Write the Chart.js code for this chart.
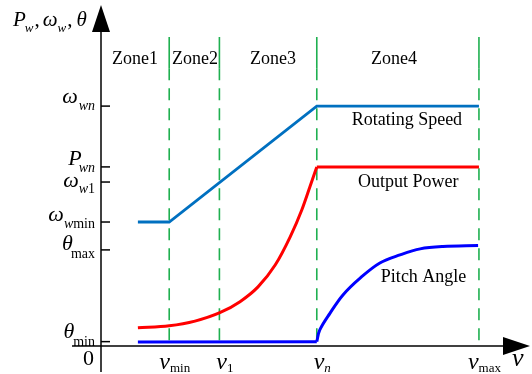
<!DOCTYPE html>
<html>
<head>
<meta charset="utf-8">
<script src="https://cdn.jsdelivr.net/npm/chart.js@4.4.0/dist/chart.umd.min.js"></script>
<style>
  html, body { margin: 0; padding: 0; background: #fff; }
  #wrap { width: 532px; height: 374px; position: relative; }
</style>
</head>
<body>
<div id="wrap"><canvas id="c"></canvas></div>
<script>
// wind speed marks on the v axis (arbitrary units, 0..100)
const vStart = 8.6, vMin = 15.9, v1 = 27.6, vN = 50.3, vMax = 88.1;
const zoneEdges = [vMin, v1, vN, vMax];
const zoneTop = 92, zoneSolidEnd = 82.7;

// levels on the vertical axis (0..100)
const wWn = 71.4, pWn = 53.3, wW1 = 48.8, wWmin = 36.9, thMax = 28.6, thMin = 1.3;

// rotating speed
const speedX = [vStart, vMin, vN, vMax];
const speedY = [wWmin, wWmin, wWn, wWn];

// output power
const powerX = [8.6, 15.9, 21.9, 27.7, 32.4, 36.6, 40.6, 44.1, 46.8, 48.7, 50.3, 88.1];
const powerY = [5.4, 6.0, 7.4, 9.9, 13.2, 17.6, 24.1, 32.5, 40.5, 47.4, 53.3, 53.3];

// pitch angle
const pitchX = [8.6, 50.3, 51.0, 53.4, 56.4, 60.4, 65.0, 69.7, 74.4, 79.7, 87.9];
const pitchY = [1.2, 1.3, 4.8, 9.8, 15.2, 20.2, 24.7, 27.1, 28.9, 29.6, 29.9];

// tick labels
const yTickVals = [wWn, pWn, wW1, wWmin, thMax, thMin];
const yTickMain = ['ω', 'P', 'ω', 'ω', 'θ', 'θ'];
const yTickSub = [['w', 'n'], ['w', 'n'], ['w', '1'], ['w', 'min'], ['max'], ['min']];
const xTickVals = [vMin, v1, vN, vMax];
const xTickSub = ['min', '1', 'n', 'max'];

const zoneNames = ['Zone1', 'Zone2', 'Zone3', 'Zone4'];
const zoneCenters = [7.9, 21.9, 40.1, 68.3];
const curveNames = ['Rotating Speed', 'Output Power', 'Pitch Angle'];
const curveNameX = [71.3, 71.6, 75.2];
const curveNameY = [67.3, 48.8, 20.5];

// label placement (pixels, relative to tick)
const yMainDy = [-3, -2, 5, -1.5, 0, -4];
const ySubDy = [7, 7, 6, 7, 8, 8];
const ySubDx = [1, -3, 0, 0, -2, -1];

const toPts = (xs, ys) => xs.map((x, i) => ({ x: x, y: ys[i] }));
const splitAt = powerX.indexOf(vN);
const pitchSplit = pitchX.indexOf(vN);

const zoneDashed = [];
const zoneSolid = [];
zoneEdges.forEach(v => {
  zoneDashed.push({ x: v, y: zoneSolidEnd }, { x: v, y: 0 }, { x: v, y: null });
  zoneSolid.push({ x: v, y: zoneTop }, { x: v, y: zoneSolidEnd }, { x: v, y: null });
});

const GREEN = '#1fb050';
const SERIF = '"Liberation Serif", "Times New Roman", serif';

function font(size, italic) {
  return (italic ? 'italic ' : '') + size + 'px ' + SERIF;
}

// parts: [text, size, italic, dy, dx]
function richWidth(ctx, parts) {
  let w = 0;
  parts.forEach(p => {
    ctx.font = font(p[1], p[2]);
    w += ctx.measureText(p[0]).width + (p[4] || 0);
  });
  return w;
}
function drawRich(ctx, parts, x, y) {
  ctx.textAlign = 'left';
  ctx.textBaseline = 'alphabetic';
  let cx = x;
  parts.forEach(p => {
    cx += (p[4] || 0);
    ctx.font = font(p[1], p[2]);
    ctx.fillText(p[0], cx, y + (p[3] || 0));
    cx += ctx.measureText(p[0]).width;
  });
}
function subParts(sub, size, dy, dx) {
  return sub.map((s, i) => [s, size, /^[a-z]$/.test(s), dy, i === 0 ? dx : 0]);
}

const axesPlugin = {
  id: 'axes',
  afterDatasetsDraw(chart) {
    const ctx = chart.ctx;
    const xs = chart.scales.x, ys = chart.scales.y;
    const ca = chart.chartArea;
    const ox = xs.getPixelForValue(0), oy = ys.getPixelForValue(0);
    ctx.save();
    ctx.strokeStyle = '#000';
    ctx.fillStyle = '#000';
    ctx.lineWidth = 1.5;

    // vertical axis with arrow
    ctx.beginPath();
    ctx.moveTo(ox, oy + 26);
    ctx.lineTo(ox, ca.top + 20);
    ctx.stroke();
    ctx.beginPath();
    ctx.moveTo(ox, ca.top - 5);
    ctx.lineTo(ox - 9, ca.top + 22);
    ctx.lineTo(ox + 9, ca.top + 22);
    ctx.closePath();
    ctx.fill();

    // horizontal axis with arrow
    ctx.beginPath();
    ctx.moveTo(ox - 29, oy);
    ctx.lineTo(ca.right - 25, oy);
    ctx.stroke();
    ctx.beginPath();
    ctx.moveTo(ca.right, oy);
    ctx.lineTo(ca.right - 27, oy - 9);
    ctx.lineTo(ca.right - 27, oy + 9);
    ctx.closePath();
    ctx.fill();

    // y ticks and labels
    yTickVals.forEach((v, i) => {
      const py = ys.getPixelForValue(v);
      ctx.lineWidth = 1.5;
      ctx.beginPath();
      ctx.moveTo(ox, py);
      ctx.lineTo(ox + 9, py);
      ctx.stroke();
      const parts = [[yTickMain[i], 22, true, 0, 0]].concat(subParts(yTickSub[i], 14, ySubDy[i], ySubDx[i]));
      const w = richWidth(ctx, parts);
      drawRich(ctx, parts, 95 - w, py + yMainDy[i]);
    });

    // origin
    ctx.font = font(22, false);
    ctx.textAlign = 'right';
    ctx.fillText('0', 94, oy + 19);

    // x tick labels
    xTickVals.forEach((v, i) => {
      const px = xs.getPixelForValue(v);
      const parts = [['v', 24, true, 0, 0]].concat(subParts([xTickSub[i]], 13, 3, 0));
      const w = richWidth(ctx, parts);
      drawRich(ctx, parts, px + 5.5 - w / 2, oy + 23);
    });
    ctx.font = font(26, true);
    ctx.textAlign = 'left';
    ctx.fillText('v', ca.right - 18, oy + 20);

    // axis title
    drawRich(ctx, [
      ['P', 21, true, 0, 0], ['w', 13, true, 6, -1], [',', 21, false, 0, 1],
      ['ω', 21, true, 0, 3], ['w', 13, true, 6, 0], [',', 21, false, 0, 1],
      ['θ', 21, true, 0, 4]
    ], 13, 26);

    // zone names and curve names
    ctx.font = font(18, false);
    ctx.textAlign = 'center';
    ctx.textBaseline = 'middle';
    zoneNames.forEach((z, i) => ctx.fillText(z, xs.getPixelForValue(zoneCenters[i]), ys.getPixelForValue(zoneTop) + 22));
    curveNames.forEach((n, i) => ctx.fillText(n, xs.getPixelForValue(curveNameX[i]), ys.getPixelForValue(curveNameY[i])));
    ctx.restore();
  }
};

new Chart(document.getElementById('c'), {
  type: 'line',
  data: {
    datasets: [
      { data: toPts(speedX, speedY), borderColor: '#0070c0', borderWidth: 2.8, tension: 0, order: 1 },
      { data: toPts(powerX.slice(0, splitAt + 1), powerY.slice(0, splitAt + 1)), borderColor: '#ff0000', borderWidth: 3, cubicInterpolationMode: 'monotone', order: 1 },
      { data: toPts(powerX.slice(splitAt), powerY.slice(splitAt)), borderColor: '#ff0000', borderWidth: 3, tension: 0, order: 1 },
      { data: toPts(pitchX.slice(0, pitchSplit + 1), pitchY.slice(0, pitchSplit + 1)), borderColor: '#0000ff', borderWidth: 3, tension: 0, order: 1 },
      { data: toPts(pitchX.slice(pitchSplit), pitchY.slice(pitchSplit)), borderColor: '#0000ff', borderWidth: 3, tension: 0.35, order: 1 },
      { data: zoneDashed, borderColor: GREEN, borderWidth: 1.6, borderDash: [12, 8], spanGaps: false, order: 10 },
      { data: zoneSolid, borderColor: GREEN, borderWidth: 1.6, spanGaps: false, order: 10 }
    ]
  },
  options: {
    responsive: true,
    maintainAspectRatio: false,
    animation: false,
    events: [],
    layout: { padding: { left: 101, right: 2, top: 10, bottom: 28 } },
    elements: { point: { radius: 0 } },
    scales: {
      x: { type: 'linear', min: 0, max: 100, display: false },
      y: { type: 'linear', min: 0, max: 100, display: false }
    },
    plugins: { legend: { display: false }, tooltip: { enabled: false } }
  },
  plugins: [axesPlugin]
});
</script>
</body>
</html>
